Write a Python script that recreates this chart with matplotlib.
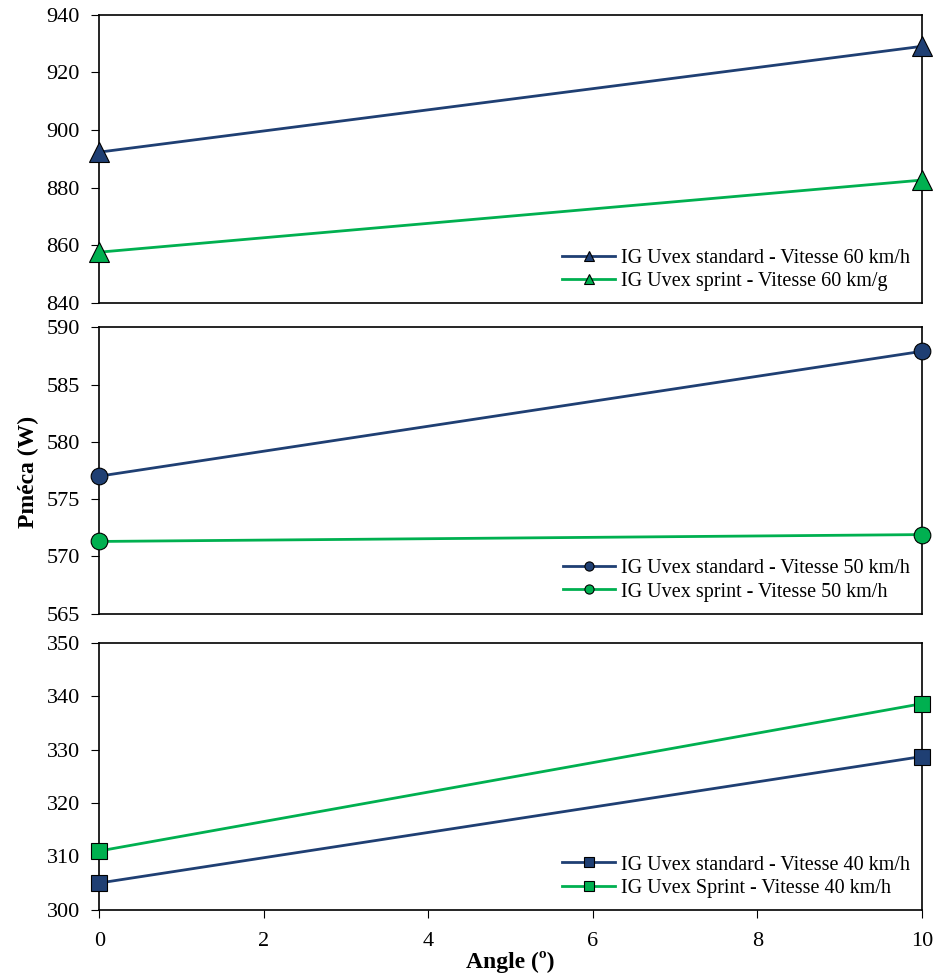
import matplotlib.pyplot as plt

# angle (deg)
angle = [0, 10]

# 60 km/h
std_60 = [892.3, 929.0]
spr_60 = [857.6, 882.6]
# 50 km/h
std_50 = [577.0, 587.9]
spr_50 = [571.3, 571.9]
# 40 km/h
std_40 = [305.0, 328.7]
spr_40 = [311.0, 338.6]

labels_60 = ['IG Uvex standard - Vitesse 60 km/h', 'IG Uvex sprint - Vitesse 60 km/g']
labels_50 = ['IG Uvex standard - Vitesse 50 km/h', 'IG Uvex sprint - Vitesse 50 km/h']
labels_40 = ['IG Uvex standard - Vitesse 40 km/h', 'IG Uvex Sprint - Vitesse 40 km/h']

navy = '#1F3F73'
green = '#00B050'

plt.rcParams['font.family'] = ['Liberation Serif', 'DejaVu Serif']

fig = plt.figure(figsize=(9.36, 9.74), dpi=100)
left, width = 0.106, 0.879
ax1 = fig.add_axes([left, 0.689, width, 0.296])
ax2 = fig.add_axes([left, 0.370, width, 0.294])
ax3 = fig.add_axes([left, 0.066, width, 0.274])

panels = [
    (ax1, std_60, spr_60, labels_60, '^', 14, (840, 940), range(840, 941, 20)),
    (ax2, std_50, spr_50, labels_50, 'o', 12, (565, 590), range(565, 591, 5)),
    (ax3, std_40, spr_40, labels_40, 's', 12, (300, 350), range(300, 351, 10)),
]

for ax, std, spr, labels, mk, ms, ylim, yticks in panels:
    ax.plot(angle, std, color=navy, lw=2, marker=mk, ms=ms, mfc=navy,
            mec='black', mew=0.8, clip_on=False, zorder=3, label=labels[0])
    ax.plot(angle, spr, color=green, lw=2, marker=mk, ms=ms, mfc=green,
            mec='black', mew=0.8, clip_on=False, zorder=3, label=labels[1])
    ax.set_xlim(0, 10)
    ax.set_ylim(*ylim)
    ax.set_yticks(list(yticks))
    ax.tick_params(axis='y', direction='out', length=6, labelsize=16, pad=8)
    ax.tick_params(axis='x', direction='out', length=6, labelsize=16, pad=10)
    for s in ax.spines.values():
        s.set_linewidth(1.2)
    ax.legend(loc='lower right', frameon=False, fontsize=14.5,
              handlelength=2.6, handletextpad=0.3, labelspacing=0.2,
              borderaxespad=0.2, markerscale=0.55)

for ax in (ax1, ax2):
    ax.set_xticks([])

ax3.set_xticks([0, 2, 4, 6, 8, 10])
ax3.set_xlabel('Angle (º)', fontsize=17, fontweight='bold', labelpad=0)
fig.text(0.03, 0.515, 'Pméca (W)', rotation=90, fontsize=17,
         fontweight='bold', ha='center', va='center')

fig.savefig('out.png', dpi=100)
